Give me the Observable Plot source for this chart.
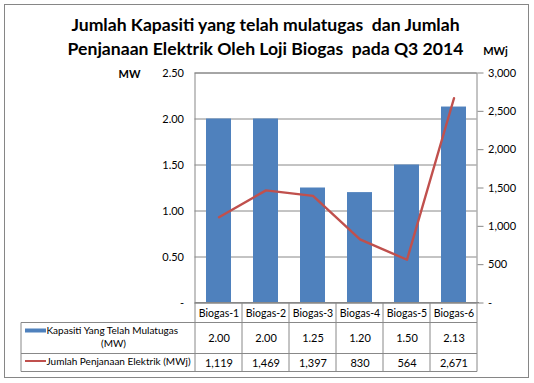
<!DOCTYPE html>
<html>
<head>
<meta charset="utf-8">
<script src="https://cdn.jsdelivr.net/npm/d3@7"></script>
<script src="https://cdn.jsdelivr.net/npm/@observablehq/plot@0.6"></script>
<style>
  html, body { margin: 0; padding: 0; background: #fff; }
  #wrap { position: relative; width: 534px; height: 383px; }
  #border { position: absolute; left: 4px; top: 4px; width: 523px; height: 372px; border: 1px solid #868686; pointer-events: none; }
  #chart { position: absolute; left: 0; top: 0; }
</style>
</head>
<body>
<div id="wrap"><div id="chart"></div><div id="border"></div></div>
<script>
const titleLines = ["Jumlah Kapasiti yang telah mulatugas\u00a0 dan Jumlah", "Penjanaan Elektrik Oleh Loji Biogas\u00a0 pada Q3 2014"];
const categories = ["Biogas-1", "Biogas-2", "Biogas-3", "Biogas-4", "Biogas-5", "Biogas-6"];
const capacityMW = [2.00, 2.00, 1.25, 1.20, 1.50, 2.13];
const generationMWj = [1119, 1469, 1397, 830, 564, 2671];
const leftTicks = [0, 0.5, 1.0, 1.5, 2.0, 2.5];
const rightTicks = [0, 500, 1000, 1500, 2000, 2500, 3000];
const seriesNames = ["Kapasiti Yang Telah Mulatugas", "(MW)", "Jumlah Penjanaan Elektrik (MWj)"];

const RIGHT_MAX = 3000, LEFT_MAX = 2.5;
const toLeft = v => v * LEFT_MAX / RIGHT_MAX;
const fmtComma = d3.format(",");

const rows = categories.map((c, i) => ({cat: c, cap: capacityMW[i], gen: generationMWj[i]}));

const BLUE = "#4F81BD", RED = "#C0504D", GRID = "#888888";

function tableGrid(index, scales, values, dimensions) {
  const x = scales.x, y = scales.y;
  const step = x(categories[1]) - x(categories[0]);
  const xStart = x(categories[0]);
  const xEnd = x(categories[categories.length - 1]) + step;
  const r0 = y(0), r1 = r0 + 20, r2 = r0 + 51, r3 = r0 + 69;
  const legendLeft = 21;
  const g = d3.create("svg:g");
  const lines = g.append("g").attr("stroke", GRID).attr("stroke-width", 1).attr("fill", "none");
  const hl = (x1, x2, yy) => lines.append("line").attr("x1", x1).attr("x2", x2).attr("y1", yy).attr("y2", yy);
  const vl = (xx, y1, y2) => lines.append("line").attr("x1", xx).attr("x2", xx).attr("y1", y1).attr("y2", y2);
  hl(xStart, xEnd + 2, r0);
  hl(legendLeft, xEnd, r1);
  hl(legendLeft, xEnd, r2);
  hl(legendLeft, xEnd, r3);
  categories.forEach(c => vl(x(c), r0, r3));
  vl(xEnd, r0, r3);
  vl(legendLeft, r1, r3);
  g.append("rect").attr("x", 25).attr("y", r1 + 6).attr("width", 21).attr("height", 4).attr("fill", BLUE);
  g.append("line").attr("x1", 25).attr("x2", 46).attr("y1", r2 + 7.5).attr("y2", r2 + 7.5).attr("stroke", RED).attr("stroke-width", 2);
  return g.node();
}

const T = (txt, opts) => Plot.text([txt], {text: d => d, lineAnchor: "middle", ...opts});

const chart = Plot.plot({
  width: 534,
  height: 383,
  marginLeft: 194.5,
  marginRight: 57.5,
  marginTop: 72.5,
  marginBottom: 80.5,
  style: {fontFamily: "Lato, 'Open Sans', sans-serif", fontSize: "11px", background: "transparent", color: "#000"},
  x: {type: "band", domain: categories, padding: 0, axis: null},
  y: {domain: [0, LEFT_MAX], axis: null},
  marks: [
    Plot.gridY(leftTicks, {stroke: GRID, strokeOpacity: 1}),
    Plot.barY(rows, {x: "cat", y: "cap", fill: BLUE, insetLeft: 11, insetRight: 11}),
    Plot.line(rows, {x: "cat", y: d => toLeft(d.gen), stroke: RED, strokeWidth: 2.4}),
    Plot.frame({stroke: GRID}),
    Plot.axisY(leftTicks, {anchor: "left", tickSize: 0, tickPadding: 11, label: null, fontSize: 11,
      tickFormat: d => d === 0 ? "-" : d.toFixed(2)}),
    Plot.axisY(rightTicks.map(toLeft), {anchor: "right", tickSize: 6, tickPadding: 5, label: null, fontSize: 11, stroke: GRID,
      tickFormat: d => { const v = Math.round(d * RIGHT_MAX / LEFT_MAX); return v === 0 ? "-" : fmtComma(v); }}),
    tableGrid,
    Plot.text(rows, {x: "cat", y: 0, dy: 11, text: "cat", fontSize: 10.5}),
    Plot.text(rows, {x: "cat", y: 0, dy: 35.5, text: d => d.cap.toFixed(2), fontSize: 11}),
    Plot.text(rows, {x: "cat", y: 0, dy: 60, text: d => fmtComma(d.gen), fontSize: 11}),
    T(seriesNames[0], {frameAnchor: "bottom-left", dx: -148.5, dy: 28, textAnchor: "start", fontSize: 10}),
    T(seriesNames[1], {frameAnchor: "bottom-left", dx: -81.5, dy: 41, textAnchor: "middle", fontSize: 10}),
    T(seriesNames[2], {frameAnchor: "bottom-left", dx: -148.5, dy: 58.5, textAnchor: "start", fontSize: 10}),
    T(titleLines[0], {frameAnchor: "top-left", dx: 70.5, dy: -47.5, textAnchor: "middle", fontSize: 17.6, fontWeight: "bold"}),
    T(titleLines[1], {frameAnchor: "top-left", dx: 70.5, dy: -23.5, textAnchor: "middle", fontSize: 17.6, fontWeight: "bold"}),
    T("MW", {frameAnchor: "top-left", dx: -65.5, dy: 1, textAnchor: "middle", fontSize: 11, fontWeight: "bold"}),
    T("MWj", {frameAnchor: "top-right", dx: 18.5, dy: -22, textAnchor: "middle", fontSize: 11, fontWeight: "bold"})
  ]
});
document.getElementById("chart").appendChild(chart);
</script>
</body>
</html>
